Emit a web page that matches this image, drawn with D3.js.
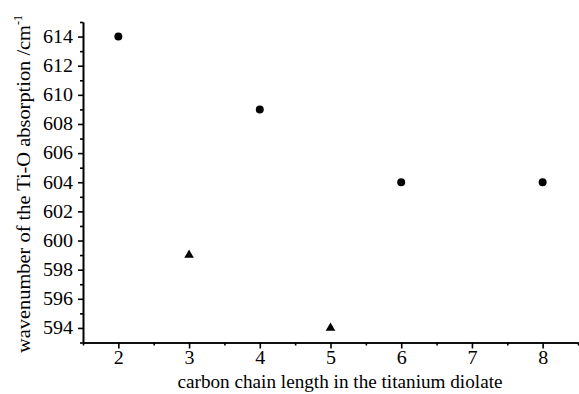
<!DOCTYPE html>
<html>
<head>
<meta charset="utf-8">
<script src="https://cdn.jsdelivr.net/npm/d3@7"></script>
<style>
  body { margin: 0; background: #fff; }
  svg { display: block; font-family: "Liberation Serif", serif; }
  .axis path, .axis line { stroke: #000; stroke-width: 1.6; }
</style>
</head>
<body>
<div id="container"></div>
<script>
const width = 579;
const height = 394;

// data
const circleX = [2, 4, 6, 8];
const circleY = [614, 609, 604, 604];
const triangleX = [3, 5];
const triangleY = [599, 594];

const xTicks = [2, 3, 4, 5, 6, 7, 8];
const xMinorTicks = [1.5, 2.5, 3.5, 4.5, 5.5, 6.5, 7.5, 8.5];
const yTicks = [594, 596, 598, 600, 602, 604, 606, 608, 610, 612, 614];
const yMinorTicks = [593, 595, 597, 599, 601, 603, 605, 607, 609, 611, 613, 615];

const xLabel = 'carbon chain length in the titanium diolate';
const yLabel = 'wavenumber of the Ti-O  absorption /cm';

const svg = d3
  .select('#container')
  .append('svg')
  .attr('width', width)
  .attr('height', height);

const xScale = d3.scaleLinear().domain([1.5, 8.5]).range([83, 578]);
const yScale = d3.scaleLinear().domain([593, 615]).range([342.5, 22]);

function serifText(sel, len) {
  sel
    .style('font-family', 'Liberation Serif')
    .style('font-size', '18px')
    .attr('fill', '#000')
    .attr('textLength', len)
    .attr('lengthAdjust', 'spacingAndGlyphs');
}

// minor ticks first, then major ticks with labels
svg
  .append('g')
  .attr('class', 'axis')
  .attr('transform', 'translate(0,342.5)')
  .call(d3.axisBottom(xScale).tickValues(xMinorTicks).tickSize(3).tickSizeOuter(0).tickFormat(''));
svg
  .append('g')
  .attr('class', 'axis')
  .attr('transform', 'translate(0,342.5)')
  .call(d3.axisBottom(xScale).tickValues(xTicks).tickSizeInner(6).tickSizeOuter(0).tickPadding(3).tickFormat(d3.format('d')))
  .selectAll('text')
  .call(serifText, 10);

svg
  .append('g')
  .attr('class', 'axis')
  .attr('transform', 'translate(83,0)')
  .call(d3.axisLeft(yScale).tickValues(yMinorTicks).tickSize(3).tickSizeOuter(0).tickFormat(''));
svg
  .append('g')
  .attr('class', 'axis')
  .attr('transform', 'translate(83,0)')
  .call(d3.axisLeft(yScale).tickValues(yTicks).tickSizeInner(5).tickSizeOuter(0).tickPadding(5).tickFormat(d3.format('d')))
  .selectAll('text')
  .call(serifText, 30);

// axis titles
svg
  .append('text')
  .attr('x', 340)
  .attr('y', 388)
  .attr('text-anchor', 'middle')
  .call(serifText, 325)
  .text(xLabel);

const yTitle = svg
  .append('text')
  .attr('transform', 'translate(30,353) rotate(-90)')
  .attr('text-anchor', 'start')
  .style('font-family', 'Liberation Serif')
  .style('font-size', '18px');
yTitle
  .append('tspan')
  .attr('textLength', 328)
  .attr('lengthAdjust', 'spacingAndGlyphs')
  .text(yLabel);
yTitle.append('tspan').attr('dy', -8).style('font-size', '12px').text('-1');

// points
const symbol = d3.symbol();
svg
  .append('g')
  .selectAll('path')
  .data(circleX.map((x, i) => [x, circleY[i]]))
  .enter()
  .append('path')
  .attr('transform', d => 'translate(' + xScale(d[0]) + ',' + yScale(d[1]) + ')')
  .attr('d', symbol.type(d3.symbolCircle).size(50)())
  .attr('fill', '#000');

svg
  .append('g')
  .selectAll('path')
  .data(triangleX.map((x, i) => [x, triangleY[i]]))
  .enter()
  .append('path')
  .attr('transform', d => 'translate(' + xScale(d[0]) + ',' + yScale(d[1]) + ')')
  .attr('d', symbol.type(d3.symbolTriangle).size(40)())
  .attr('fill', '#000');
</script>
</body>
</html>
